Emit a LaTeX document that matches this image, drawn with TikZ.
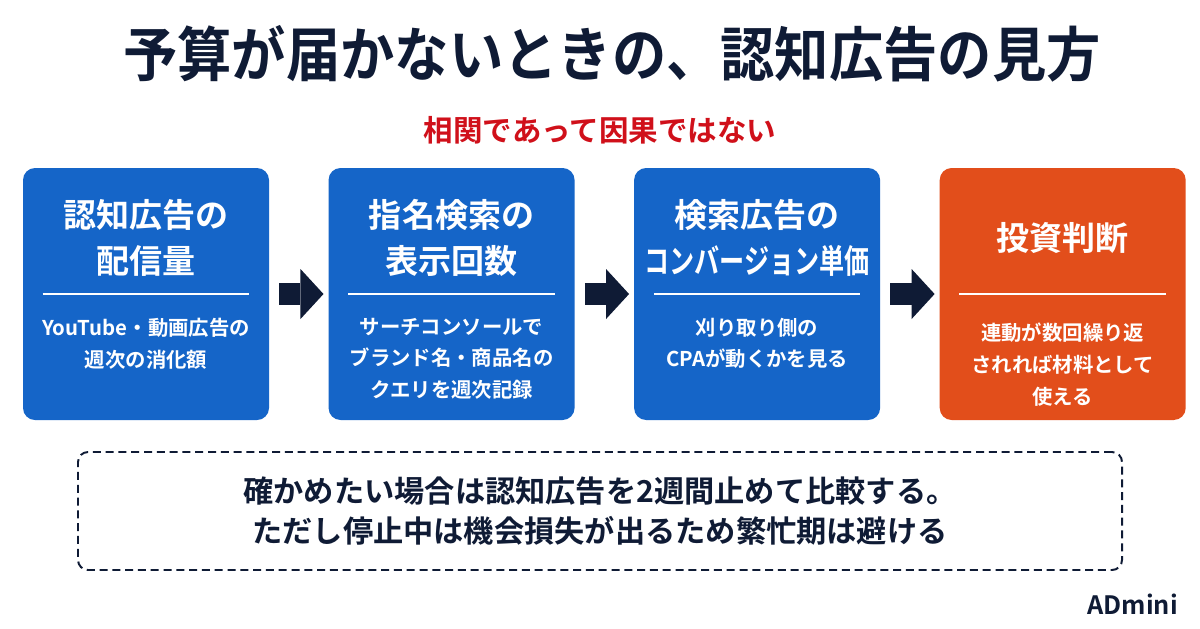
\documentclass[tikz,border=0pt]{standalone}
\usepackage{fontspec}
\setmainfont{Noto Sans CJK JP}[BoldFont={* Bold}]
\usepackage{graphicx}
\usepackage{tikz}
\usetikzlibrary{arrows.meta, positioning, calc}
\definecolor{azulTarjeta}{HTML}{1565C8}
\definecolor{naranjaDecision}{HTML}{E24E1B}
\definecolor{rojoAviso}{HTML}{D0101A}
\definecolor{marinoOscuro}{HTML}{0F1B35}

\begin{document}
\begin{tikzpicture}[
        card/.style={fill=azulTarjeta, rounded corners=0.3cm, minimum width=6.15cm,
            minimum height=6.3cm, inner sep=0pt},
        cardhead/.style={text=white, align=center, font=\bfseries\fontsize{23.5}{33}\selectfont},
        cardsub/.style={text=white, align=center, anchor=north,
            font=\bfseries\fontsize{14.5}{22.7}\selectfont},
        sep/.style={draw=white, line width=1.2pt},
        flow/.style={marinoOscuro, line width=0.55cm,
            -{Triangle[length=0.575cm, width=1.25cm, line width=0pt]},
            shorten <=0.25cm, shorten >=0.12cm},
        note/.style={draw=marinoOscuro, line width=1.4pt, dash pattern=on 0.2cm off 0.12cm,
            rounded corners=0.25cm, minimum width=26.1cm, minimum height=2.95cm,
            align=center, text=marinoOscuro, font=\bfseries\fontsize{21.5}{28.5}\selectfont}
    ]
        \useasboundingbox (0,0) rectangle (30,-15.7);
        \fill[white] (0,0) rectangle (30,-15.7);

        \node[text=marinoOscuro, font=\bfseries\fontsize{42}{48}\selectfont] (titulo) at (15.3,-1.35)
            {\scalebox{0.92}[1]{予算が届かないときの、認知広告の見方}};
        \node[text=rojoAviso, font=\bfseries\fontsize{21}{26}\selectfont] (lema) at (15,-3.25)
            {相関であって因果ではない};

        \node[card] (c1) at (3.65,-7.35) {};
        \node[card, right=1.475cm of c1] (c2) {};
        \node[card, right=1.475cm of c2] (c3) {};
        \node[card, fill=naranjaDecision, right=1.475cm of c3] (c4) {};

        \node[cardhead] (h1) at ([yshift=1.4cm]c1.center) {認知広告の\\配信量};
        \node[cardhead] (h2) at ([yshift=1.4cm]c2.center) {指名検索の\\表示回数};
        \node[cardhead] (h3) at ([yshift=1.4cm]c3.center)
            {検索広告の\\\scalebox{0.76}[1]{コンバージョン単価}};
        \node[cardhead] (h4) at ([yshift=1.4cm]c4.center) {投資判断};

        \draw[sep] ([xshift=0.5cm]c1.west) -- ([xshift=-0.5cm]c1.east);
        \draw[sep] ([xshift=0.5cm]c2.west) -- ([xshift=-0.5cm]c2.east);
        \draw[sep] ([xshift=0.5cm]c3.west) -- ([xshift=-0.5cm]c3.east);
        \draw[sep] ([xshift=0.5cm]c4.west) -- ([xshift=-0.5cm]c4.east);

        \node[cardsub] (s1) at ([yshift=-0.47cm]c1.center) {YouTube・動画広告の\\週次の消化額};
        \node[cardsub] (s2) at ([yshift=-0.47cm]c2.center)
            {サーチコンソールで\\ブランド名・商品名の\\クエリを週次記録};
        \node[cardsub] (s3) at ([yshift=-0.47cm]c3.center) {刈り取り側の\\CPAが動くかを見る};
        \node[cardsub] (s4) at ([yshift=-0.6cm]c4.center)
            {連動が数回繰り返\\されれば材料として\\使える};

        \draw[flow] (c1) -- (c2);
        \draw[flow] (c2) -- (c3);
        \draw[flow] (c3) -- (c4);

        \node[note] (nota) at (15,-12.775)
            {確かめたい場合は認知広告を2週間止めて比較する。\\ただし停止中は機会損失が出るため繁忙期は避ける};

        \node[anchor=south east, inner sep=0pt, text=marinoOscuro,
            font=\bfseries\fontsize{18}{20}\selectfont] (marca) at (29.45,-15.375) {ADmini};
    \end{tikzpicture}
\end{document}
